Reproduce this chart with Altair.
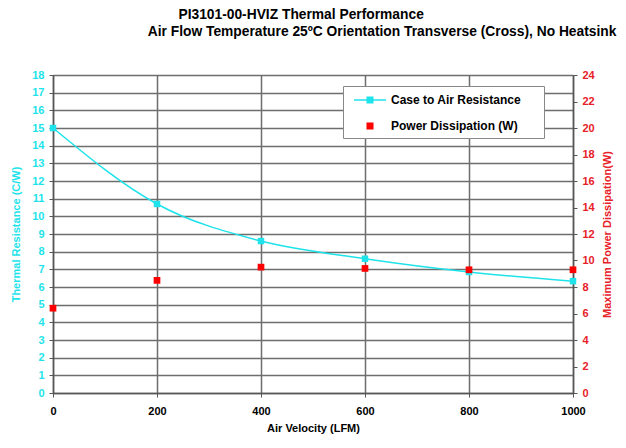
import altair as alt
import pandas as pd

# ---- data ----
velocity = [0, 200, 400, 600, 800, 1000]
resistance = [15.0, 10.7, 8.6, 7.6, 6.85, 6.33]
power = [6.4, 8.5, 9.5, 9.4, 9.3, 9.3]
series_names = ["Case to Air Resistance", "Power Dissipation (W)"]
x_ticks = [0, 200, 400, 600, 800, 1000]
left_ticks = list(range(0, 19))
right_ticks = list(range(0, 25, 2))

title_line1 = "PI3101-00-HVIZ Thermal Performance"
title_line2 = "Air Flow Temperature 25\u00baC Orientation Transverse (Cross), No Heatsink"

CYAN = "#1ee3ea"
RED = "#ff0000"
RED_TXT = "#e82028"
GRID = "#6e6e6e"
AXIS = "#555555"
FONT = "Liberation Sans"
ZW = "\u200b"
NB = "\u00a0"

df = pd.DataFrame({"v": velocity, "r": resistance, "p": power})
df["series"] = series_names[0]

x_enc = alt.X(
    "v:Q",
    scale=alt.Scale(domain=[0, 1000], nice=False),
    axis=alt.Axis(
        values=x_ticks, format="d", labelFlush=False, title="Air Velocity (LFM)", grid=True,
        gridColor=GRID, gridWidth=1.5, domainColor=AXIS, domainWidth=1.5,
        tickColor=AXIS, tickSize=4, labelPadding=8, titlePadding=6,
        labelFont=FONT, labelFontSize=11, labelFontWeight="bold", labelColor="black",
        titleFont=FONT, titleFontSize=11, titleFontWeight="bold", titleColor="black",
    ),
)

y_left = alt.Y(
    "r:Q",
    scale=alt.Scale(domain=[0, 18], nice=False),
    axis=alt.Axis(
        values=left_ticks, title="Thermal Resistance (C/W)", grid=True,
        gridColor=GRID, gridWidth=1.5, domainColor=AXIS, domainWidth=1.5,
        tickColor=AXIS, tickSize=4, labelPadding=5, titlePadding=10,
        labelFont=FONT, labelFontSize=11, labelFontWeight="bold", labelColor=CYAN,
        titleFont=FONT, titleFontSize=11, titleFontWeight="bold", titleColor=CYAN,
    ),
)

y_right = alt.Y(
    "p:Q",
    scale=alt.Scale(domain=[0, 24], nice=False),
    axis=alt.Axis(
        orient="right", values=right_ticks, title="Maximum Power Dissipation(W)",
        grid=False, domainColor=AXIS, domainWidth=1.5,
        tickColor=AXIS, tickSize=4, labelPadding=5, titlePadding=7,
        titleAngle=270, titleBaseline="top",
        labelFont=FONT, labelFontSize=11, labelFontWeight="bold", labelColor=RED_TXT,
        titleFont=FONT, titleFontSize=11, titleFontWeight="bold", titleColor=RED_TXT,
    ),
)

base = alt.Chart(df)

line = base.mark_line(color=CYAN, strokeWidth=1.5, interpolate="monotone").encode(x=x_enc, y=y_left)
pts_c = base.mark_point(shape="square", filled=True, size=42, color=CYAN, opacity=1).encode(x=x_enc, y=y_left)

# legend glyphs: a thin bar with a square (line series), a square alone (point series)
sym_line = "M-2,-0.1H2V0.1H-2Z M-0.44,-0.44H0.44V0.44H-0.44Z"
sym_sq = "M-0.44,-0.44H0.44V0.44H-0.44Z"
color_scale = alt.Scale(domain=series_names, range=[CYAN, RED])

legend_layer = base.mark_point(filled=True, size=0, opacity=1).encode(
    x=x_enc,
    y=y_left,
    color=alt.Color(
        "series:N", scale=color_scale, title=None,
        legend=alt.Legend(
            orient="none", legendX=290, legendY=11, padding=6,
            fillColor="white", strokeColor="#888888",
            symbolSize=256, symbolStrokeWidth=0, symbolOpacity=1,
            symbolOffset=13, labelOffset=13, rowPadding=12,
            labelFont=FONT, labelFontSize=12, labelFontWeight="bold", labelColor="black",
            labelExpr="datum.label + '" + NB * 5 + ZW + "'", labelLimit=400,
        ),
    ),
    shape=alt.Shape("series:N", scale=alt.Scale(domain=series_names, range=[sym_line, sym_sq]), title=None),
)

left = alt.layer(line, pts_c, legend_layer)
right = base.mark_point(shape="square", filled=True, size=45, color=RED, opacity=1).encode(x=x_enc, y=y_right)

chart = (
    alt.layer(left, right)
    .resolve_scale(y="independent")
    .properties(
        width=520,
        height=318,
        padding={"left": 2, "top": 0, "right": 0, "bottom": 5},
        title=alt.Title(
            text=[ZW + NB * 8 + title_line1, title_line2],
            anchor="start", frame="bounds", dx=137, offset=30,
            font=FONT, fontSize=13.8, fontWeight="bold", color="black", lineHeight=17,
        ),
    )
    .configure_view(stroke="transparent")
)

chart.save("out.html", embed_options={"renderer": "svg", "actions": False})
